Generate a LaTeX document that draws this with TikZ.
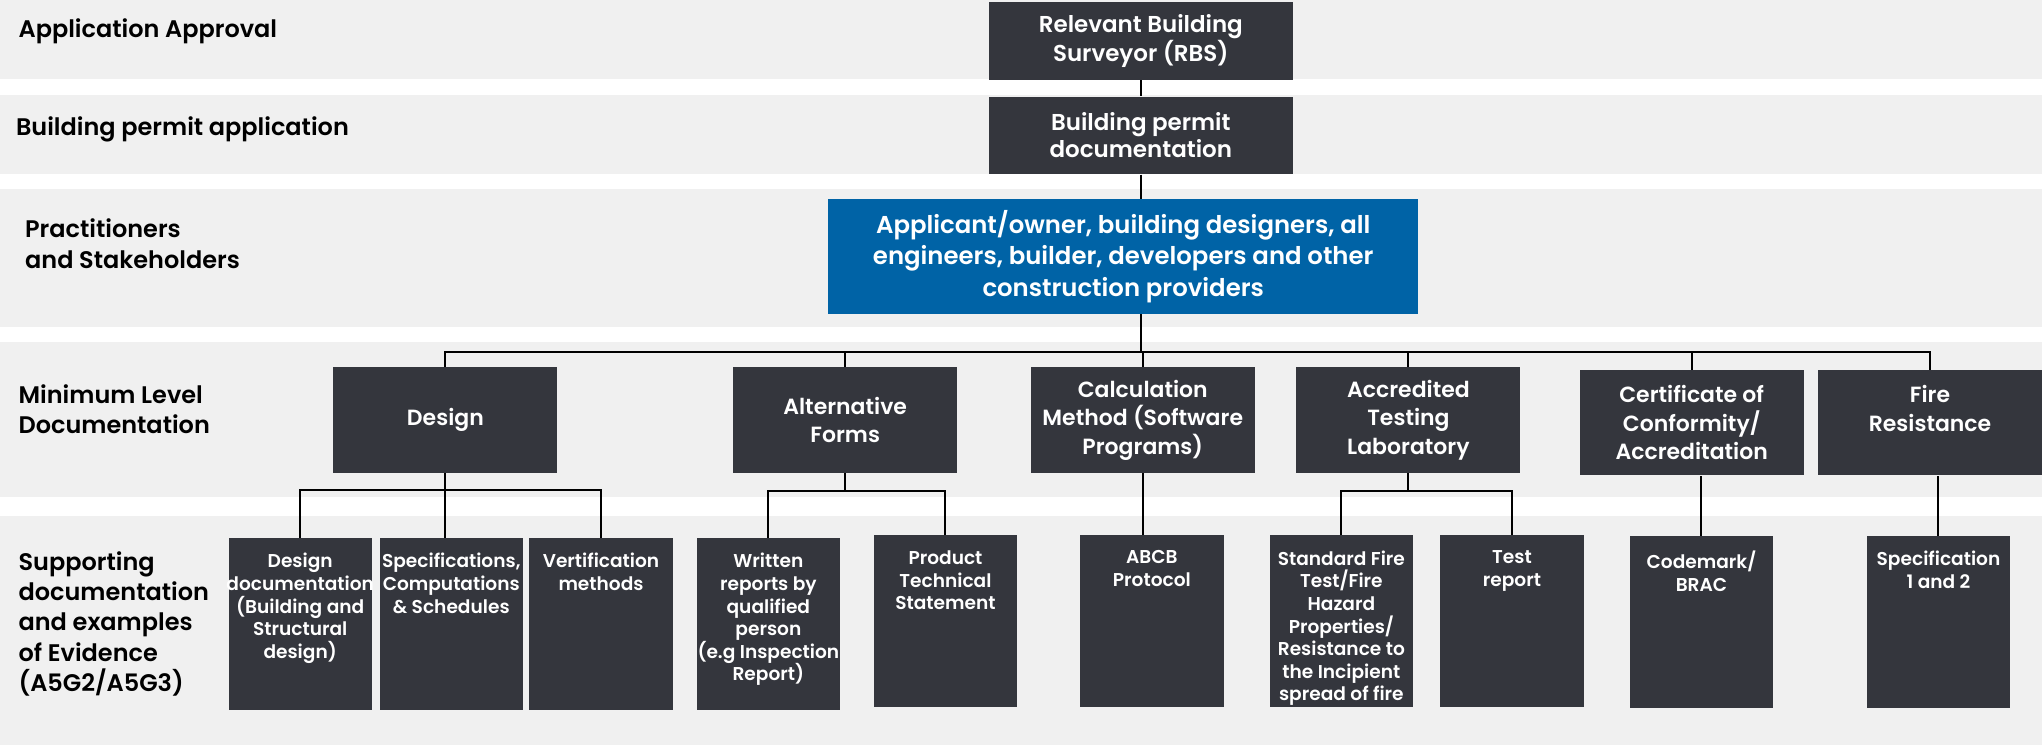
\documentclass[tikz,border=0pt]{standalone}
\usepackage{fontspec}
\setmainfont{Poppins}[BoldFont={Poppins SemiBold}]
\definecolor{boxgrey}{RGB}{52,54,61}
\definecolor{ownerblue}{RGB}{0,99,166}
\definecolor{bandgrey}{RGB}{240,240,240}
\begin{document}
\begin{tikzpicture}[x=0.0229cm,y=-0.0229cm,
	band/.style={fill=bandgrey},
	rowlabel/.style={anchor=west,align=left,inner sep=0pt,font=\fontsize{12}{15.2}\selectfont\bfseries},
	topbox/.style={rectangle,fill=boxgrey,text=white,align=center,inner sep=0pt,minimum width=5.34cm,minimum height=1.36cm,font=\fontsize{11.5}{13.6}\selectfont\bfseries},
	ownerbox/.style={rectangle,fill=ownerblue,text=white,align=center,inner sep=0pt,minimum width=10.37cm,minimum height=2.02cm,font=\fontsize{12.2}{15.6}\selectfont\bfseries},
	docbox/.style={rectangle,fill=boxgrey,text=white,align=center,inner sep=0pt,minimum width=3.94cm,minimum height=1.85cm,font=\fontsize{11}{14.3}\selectfont\bfseries},
	evbox/.style={rectangle,fill=boxgrey,inner sep=0pt,minimum width=2.52cm,minimum height=3.02cm},
	evtext/.style={anchor=north,yshift=-0.27cm,text=white,align=center,inner sep=0pt,font=\fontsize{9.3}{11.3}\selectfont\bfseries},
	link/.style={draw=black,line width=1pt}]

	\useasboundingbox (0,0) rectangle (1568,572);

	% rows
	\foreach \a/\b in {0/60.7,73/133.6,145/251,262.6/381.6,396/572}
		\fill[band] (0,\a) rectangle (1568,\b);

	\node 	(t1)	at	(14,24) 	[rowlabel]{Application Approval};
	\node 	(t2)	at	(12,99) 	[rowlabel]{Building permit application};
	\node 	(t3)	at	(19,187) 	[rowlabel]{Practitioners\\and Stakeholders};
	\node 	(t4)	at	(14,314) 	[rowlabel]{Minimum Level\\Documentation};
	\node 	(t5)	at	(14,479) 	[rowlabel]{Supporting\\documentation\\and examples\\of Evidence\\(A5G2/A5G3)};

	\node 	(n0)	at	(876,31.5) 	[topbox]{Relevant Building\\Surveyor (RBS)};
	\node 	(n1)	at	(876,104) 	[topbox]{Building permit\\documentation};
	\node 	(n2)	at	(862.5,197) 	[ownerbox]{Applicant/owner, building designers, all\\engineers, builder, developers and other\\construction providers};

	\node 	(m1)	at	(342,322.5) 	[docbox]{Design};
	\node 	(m2)	at	(649,322.5) 	[docbox]{Alternative\\Forms};
	\node 	(m3)	at	(877.5,322.5) 	[docbox]{Calculation\\Method (Software\\Programs)};
	\node 	(m4)	at	(1081.5,322.5) 	[docbox]{Accredited\\Testing\\Laboratory};
	\node 	(m5)	at	(1299,324.5) 	[docbox]{Certificate of\\Conformity/\\Accreditation};
	\node 	(m6)	at	(1482,324.5) 	[docbox]{Fire\\Resistance\\~};

	\node 	(s1)	at	(230.5,479) 	[evbox,label={[evtext]north:{Design\\documentation\\(Building and\\Structural\\design)}}]{};
	\node 	(s2)	at	(346.5,479) 	[evbox,label={[evtext]north:{Specifications,\\Computations\\\& Schedules}}]{};
	\node 	(s3)	at	(461.5,479) 	[evbox,label={[evtext]north:{Vertification\\methods}}]{};
	\node 	(s4)	at	(590,479) 	[evbox,label={[evtext]north:{Written\\reports by\\qualified\\person\\(e.g Inspection\\Report)}}]{};
	\node 	(s5)	at	(726,477) 	[evbox,label={[evtext]north:{Product\\Technical\\Statement}}]{};
	\node 	(s6)	at	(884.5,477) 	[evbox,label={[evtext]north:{ABCB\\Protocol}}]{};
	\node 	(s7)	at	(1030,477) 	[evbox,label={[evtext]north:{Standard Fire\\Test/Fire\\Hazard\\Properties/\\Resistance to\\the Incipient\\spread of fire}}]{};
	\node 	(s8)	at	(1161,477) 	[evbox,label={[evtext]north:{Test\\report}}]{};
	\node 	(s9)	at	(1306.5,477.5) 	[evbox,label={[evtext]north:{Codemark/\\BRAC}}]{};
	\node 	(s10)	at	(1488.5,477.5) 	[evbox,label={[evtext]north:{Specification\\1 and 2}}]{};

	% links
	\draw[link]	(n0.south)	--	(n1.north);
	\draw[link]	(n1.south)	--	(n1 |- n2.north);
	\path	(n1 |- n2.south)	++(0,29)	coordinate (c0);
	\draw[link]	(n1 |- n2.south)	--	(c0);
	\foreach \m in {m1,m2,m3,m4,m5,m6}
		\draw[link]	(c0)	-|	(\m.north);

	\path	(m1.south)	++(0,13)	coordinate (c1);
	\draw[link]	(m1.south)	--	(m1 |- s2.north);
	\draw[link]	(s1.north)	|-	(c1)	-|	(s3.north);

	\path	(m2.south)	++(0,14)	coordinate (c2);
	\draw[link]	(m2.south)	--	(c2);
	\draw[link]	(s4.north)	|-	(c2)	-|	(s5.north);

	\draw[link]	(m3.south)	--	(m3 |- s6.north);

	\path	(m4.south)	++(0,14)	coordinate (c4);
	\draw[link]	(m4.south)	--	(c4);
	\draw[link]	(s7.north)	|-	(c4)	-|	(s8.north);

	\draw[link]	(s9.north)	--	(s9 |- m5.south);
	\draw[link]	(s10.north)	--	(s10 |- m6.south);

\end{tikzpicture}
\end{document}
